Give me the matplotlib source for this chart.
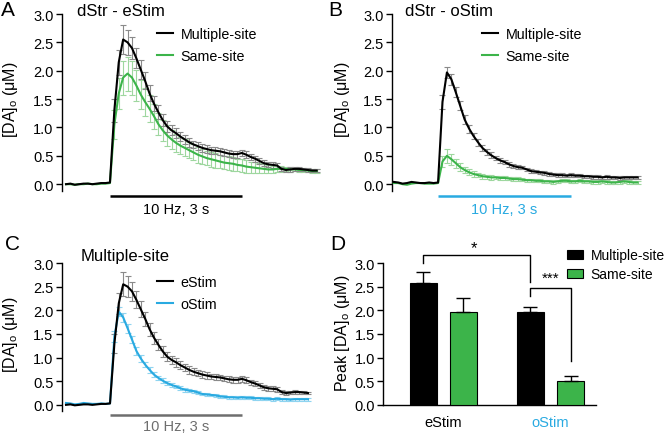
"""
Evoked dopamine release: eStim vs oStim, multiple-site vs same-site.
Four panels (A-D) rebuilt from the figure.
"""

import matplotlib

matplotlib.use("Agg")
import matplotlib.pyplot as plt
import numpy as np

# ---------------------------------------------------------------------------
# Style
# ---------------------------------------------------------------------------
plt.rcParams["font.family"] = ["Liberation Sans", "DejaVu Sans"]
plt.rcParams["mathtext.fontset"] = "custom"
plt.rcParams["mathtext.rm"] = "Liberation Sans"
plt.rcParams["mathtext.it"] = "Liberation Sans:italic"
plt.rcParams["axes.linewidth"] = 1.0

BLACK = "#000000"
GREEN = "#3cb44a"
BLUE = "#29aae1"
GREY_TXT = "#6e6e6e"
ERR_BLACK = "#8a8a8a"
ERR_GREEN = "#9ed79f"
ERR_BLUE = "#8fd4f0"

# ---------------------------------------------------------------------------
# Data (time in s, [DA]o in uM), sampled every 0.1 s from -1.0 to 4.7 s
# ---------------------------------------------------------------------------
time_s = np.round(np.arange(-1.0, 4.75, 0.1), 2)

estim_multi = [0.00, 0.01, -0.01, 0.00, 0.01, 0.01, 0.00, 0.01, 0.02, 0.02, 0.03,
               1.30, 2.15, 2.55, 2.50, 2.40, 2.22, 2.02, 1.82, 1.60, 1.42,
               1.27, 1.13, 1.02, 0.95, 0.90, 0.84, 0.79, 0.74, 0.70, 0.67,
               0.64, 0.62, 0.60, 0.59, 0.58, 0.56, 0.54, 0.53, 0.53, 0.55,
               0.52, 0.48, 0.45, 0.41, 0.37, 0.35, 0.34, 0.33, 0.27, 0.25,
               0.26, 0.27, 0.27, 0.26, 0.25, 0.24, 0.24]
estim_multi_err = [0.0] * 11 + [
               0.20, 0.22, 0.25, 0.22, 0.20, 0.18, 0.17, 0.15, 0.14, 0.13,
               0.12, 0.11, 0.10, 0.09, 0.09, 0.08, 0.08, 0.08, 0.07, 0.07,
               0.07, 0.07, 0.06, 0.06, 0.06, 0.06, 0.06, 0.06, 0.06, 0.06,
               0.06, 0.05, 0.05, 0.05, 0.05, 0.05, 0.05, 0.05, 0.04, 0.04,
               0.04, 0.04, 0.03, 0.03, 0.03, 0.03, 0.03]

estim_same = [0.00, 0.00, -0.01, 0.00, 0.00, 0.01, 0.00, 0.00, 0.01, 0.01, 0.02,
              1.05, 1.60, 1.88, 1.95, 1.88, 1.74, 1.58, 1.45, 1.33, 1.20,
              1.06, 0.95, 0.86, 0.79, 0.73, 0.68, 0.64, 0.60, 0.56, 0.52,
              0.49, 0.46, 0.44, 0.42, 0.40, 0.38, 0.37, 0.36, 0.34, 0.33,
              0.31, 0.30, 0.29, 0.28, 0.27, 0.26, 0.26, 0.27, 0.27, 0.27,
              0.26, 0.26, 0.25, 0.25, 0.24, 0.23, 0.23]
estim_same_err = [0.0] * 11 + [
              0.25, 0.28, 0.30, 0.30, 0.30, 0.28, 0.26, 0.25, 0.24, 0.22,
              0.20, 0.19, 0.18, 0.17, 0.16, 0.15, 0.15, 0.14, 0.14, 0.14,
              0.13, 0.13, 0.13, 0.13, 0.12, 0.12, 0.12, 0.12, 0.11, 0.11,
              0.11, 0.10, 0.10, 0.09, 0.08, 0.07, 0.06, 0.05, 0.05, 0.04,
              0.04, 0.03, 0.03, 0.03, 0.03, 0.03, 0.03]

ostim_multi = [0.04, 0.03, 0.01, 0.02, 0.04, 0.03, 0.02, 0.02, 0.03, 0.02, 0.03,
               1.45, 1.97, 1.85, 1.62, 1.38, 1.14, 0.98, 0.85, 0.74, 0.64,
               0.57, 0.51, 0.46, 0.42, 0.39, 0.35, 0.32, 0.30, 0.29, 0.26,
               0.23, 0.22, 0.21, 0.20, 0.18, 0.17, 0.16, 0.16, 0.15, 0.16,
               0.15, 0.15, 0.14, 0.14, 0.13, 0.13, 0.12, 0.13, 0.12, 0.12,
               0.11, 0.12, 0.12, 0.12, 0.12, 0.12, 0.12]
ostim_multi_err = [0.0] * 11 + [
               0.12, 0.10, 0.10, 0.09, 0.08, 0.08, 0.07, 0.06, 0.06, 0.05,
               0.05, 0.05, 0.04, 0.04, 0.04, 0.04, 0.04, 0.03, 0.03, 0.03,
               0.03, 0.03, 0.03, 0.03, 0.03, 0.03, 0.03, 0.03, 0.03, 0.03,
               0.03, 0.03, 0.03, 0.03, 0.03, 0.03, 0.03, 0.03, 0.03, 0.03,
               0.03, 0.03, 0.03, 0.03, 0.03, 0.03, 0.03]

ostim_same = [0.02, 0.02, 0.00, -0.01, 0.01, 0.02, 0.02, 0.01, 0.01, 0.01, 0.02,
              0.40, 0.50, 0.44, 0.37, 0.30, 0.25, 0.21, 0.18, 0.16, 0.14,
              0.13, 0.12, 0.12, 0.11, 0.11, 0.10, 0.09, 0.09, 0.08, 0.07,
              0.07, 0.06, 0.06, 0.05, 0.05, 0.04, 0.05, 0.06, 0.06, 0.05,
              0.05, 0.06, 0.05, 0.05, 0.04, 0.04, 0.05, 0.04, 0.03, 0.03,
              0.04, 0.05, 0.04, 0.03, 0.03, 0.03, 0.03]
ostim_same_err = [0.0] * 11 + [
              0.10, 0.12, 0.10, 0.08, 0.07, 0.06, 0.05, 0.05, 0.04, 0.04,
              0.04, 0.04, 0.03, 0.03, 0.03, 0.03, 0.03, 0.03, 0.03, 0.03,
              0.03, 0.03, 0.03, 0.03, 0.03, 0.03, 0.03, 0.03, 0.03, 0.03,
              0.03, 0.03, 0.03, 0.03, 0.03, 0.03, 0.03, 0.03, 0.03, 0.03,
              0.03, 0.03, 0.03, 0.03, 0.03, 0.03, 0.03]

# Panel D: peak [DA]o
groups = ["eStim", "oStim"]
peak_multi = [2.57, 1.97]
peak_multi_err = [0.24, 0.10]
peak_same = [1.96, 0.51]
peak_same_err = [0.31, 0.11]

STIM_START, STIM_END = 0.0, 3.0
STIM_LABEL = "10 Hz, 3 s"
YLABEL = "[DA]$_\\mathrm{o}$ (\u03bcM)"
YTICKS = [0, 0.5, 1.0, 1.5, 2.0, 2.5, 3.0]
YTICKLABELS = ["0.0", "0.5", "1.0", "1.5", "2.0", "2.5", "3.0"]

# ---------------------------------------------------------------------------
# Layout helpers (pixel boxes -> figure fractions)
# ---------------------------------------------------------------------------
W, H = 666, 435
fig = plt.figure(figsize=(W / 100, H / 100), dpi=100)


def px_axes(left, top, right, bottom):
    return fig.add_axes([left / W, 1 - bottom / H, (right - left) / W, (bottom - top) / H])


def fx(x):
    return x / W


def fy(y):
    return 1 - y / H


def style_y(ax):
    ax.set_yticks(YTICKS)
    ax.set_yticklabels(YTICKLABELS)
    ax.tick_params(axis="y", direction="out", length=4, width=1.0, pad=1.8, labelsize=10.5)
    ax.patch.set_visible(False)


def style_trace_axes(ax, xlim, ylim):
    ax.set_xlim(*xlim)
    ax.set_ylim(*ylim)
    for side in ("top", "right", "bottom"):
        ax.spines[side].set_visible(False)
    ax.set_xticks([])
    style_y(ax)


def draw_trace(ax, t, y, err, color, ecolor, n=None):
    t = np.asarray(t)[:n]
    y = np.asarray(y)[:n]
    err = np.asarray(err)[:n]
    mask = t > 0.05
    ax.errorbar(t[mask], y[mask], yerr=err[mask], fmt="none", ecolor=ecolor,
                elinewidth=0.8, capsize=2.5, capthick=0.8, zorder=2)
    ax.plot(t, y, color=color, lw=1.5, zorder=3)


def draw_stim(ax, color):
    ax.plot([STIM_START, STIM_END], [-0.21, -0.21], color=color, lw=1.8,
            clip_on=False, solid_capstyle="butt")
    ax.text((STIM_START + STIM_END) / 2, -0.44, STIM_LABEL, color=color,
            ha="center", va="center", fontsize=10.5, clip_on=False)


def trace_legend(ax, handles, labels, x, y):
    ax.legend(handles, labels, loc="upper left", bbox_to_anchor=(fx(x), fy(y)),
              bbox_transform=fig.transFigure, frameon=False, fontsize=10.3,
              handlelength=1.15, handletextpad=0.5, labelspacing=0.55,
              borderpad=0, borderaxespad=0)


# ---------------------------------------------------------------------------
# Panel A: dStr - eStim
# ---------------------------------------------------------------------------
ax_a = px_axes(61.6, 15, 321, 192)
style_trace_axes(ax_a, (-1.1, 4.8), (-0.12, 3.0))
draw_trace(ax_a, time_s, estim_same, estim_same_err, GREEN, ERR_GREEN)
draw_trace(ax_a, time_s, estim_multi, estim_multi_err, BLACK, ERR_BLACK)
draw_stim(ax_a, BLACK)
la1, = ax_a.plot([], [], color=BLACK, lw=1.5)
la2, = ax_a.plot([], [], color=GREEN, lw=1.5)
trace_legend(ax_a, [la1, la2], ["Multiple-site", "Same-site"], 157, 28)
fig.text(fx(77), fy(11), "dStr - eStim", fontsize=12, ha="left", va="center")

# ---------------------------------------------------------------------------
# Panel B: dStr - oStim
# ---------------------------------------------------------------------------
ax_b = px_axes(391.5, 15, 642, 192)
style_trace_axes(ax_b, (-1.05, 4.6), (-0.12, 3.0))
draw_trace(ax_b, time_s, ostim_same, ostim_same_err, GREEN, ERR_GREEN, n=56)
draw_trace(ax_b, time_s, ostim_multi, ostim_multi_err, BLACK, ERR_BLACK, n=56)
draw_stim(ax_b, BLUE)
lb1, = ax_b.plot([], [], color=BLACK, lw=1.5)
lb2, = ax_b.plot([], [], color=GREEN, lw=1.5)
trace_legend(ax_b, [lb1, lb2], ["Multiple-site", "Same-site"], 482, 28)
fig.text(fx(405), fy(11), "dStr - oStim", fontsize=12, ha="left", va="center")

# ---------------------------------------------------------------------------
# Panel C: Multiple-site, eStim vs oStim
# ---------------------------------------------------------------------------
ax_c = px_axes(61.6, 264, 312.4, 412)
style_trace_axes(ax_c, (-1.1, 4.6), (-0.13, 3.0))
draw_trace(ax_c, time_s, ostim_multi, ostim_multi_err, BLUE, ERR_BLUE, n=56)
draw_trace(ax_c, time_s, estim_multi, estim_multi_err, BLACK, ERR_BLACK, n=56)
draw_stim(ax_c, GREY_TXT)
lc1, = ax_c.plot([], [], color=BLACK, lw=1.5)
lc2, = ax_c.plot([], [], color=BLUE, lw=1.5)
trace_legend(ax_c, [lc1, lc2], ["eStim", "oStim"], 157, 276)
fig.text(fx(81), fy(257), "Multiple-site", fontsize=12, ha="left", va="center")

# ---------------------------------------------------------------------------
# Panel D: peak [DA]o bars
# ---------------------------------------------------------------------------
ax_d = px_axes(383, 264, 596, 406)
x = np.arange(len(groups))
off, bw = 0.187, 0.252
ax_d.bar(x - off, peak_multi, bw, color=BLACK, edgecolor=BLACK, lw=0.8,
         yerr=[[0, 0], peak_multi_err],
         error_kw=dict(ecolor=BLACK, elinewidth=1.0, capsize=5, capthick=1.0),
         label="Multiple-site", zorder=3)
ax_d.bar(x + off, peak_same, bw, color=GREEN, edgecolor=BLACK, lw=0.8,
         yerr=[[0, 0], peak_same_err],
         error_kw=dict(ecolor=BLACK, elinewidth=1.0, capsize=5, capthick=1.0),
         label="Same-site", zorder=3)
ax_d.set_xlim(-0.565, 1.425)
ax_d.set_ylim(0, 3.0)
style_y(ax_d)
ax_d.set_xticks(x)
ax_d.set_xticklabels(groups, fontsize=10.5)
ax_d.get_xticklabels()[1].set_color(BLUE)
ax_d.tick_params(axis="x", length=0, pad=7)
for side in ("top", "right"):
    ax_d.spines[side].set_visible(False)

# significance brackets
bx1, bx2, bx3 = x[0] - off, x[1] - off, x[1] + off
ax_d.plot([bx1, bx1, bx2, bx2], [3.0, 3.17, 3.17, 2.59], color=BLACK, lw=1.0, clip_on=False)
ax_d.text((bx1 + bx2) / 2 - 0.03, 3.33, "*", ha="center", va="center", fontsize=12)
ax_d.plot([bx2, bx2, bx3, bx3], [2.31, 2.47, 2.47, 0.94], color=BLACK, lw=1.0, clip_on=False)
ax_d.text(1.0, 2.68, "***", ha="center", va="center", fontsize=11)

ax_d.legend(loc="upper left", bbox_to_anchor=(fx(567), fy(249)),
            bbox_transform=fig.transFigure, frameon=False, fontsize=10,
            handlelength=1.15, handleheight=0.6, handletextpad=0.55,
            labelspacing=0.38, borderpad=0, borderaxespad=0)

# ---------------------------------------------------------------------------
# Axis labels and panel letters
# ---------------------------------------------------------------------------
fig.text(fx(11), fy(100), YLABEL, rotation=90, ha="center", va="center", fontsize=11.5)
fig.text(fx(342), fy(100), YLABEL, rotation=90, ha="center", va="center", fontsize=11.5)
fig.text(fx(11), fy(335), YLABEL, rotation=90, ha="center", va="center", fontsize=11.5)
fig.text(fx(342), fy(333), "Peak " + YLABEL, rotation=90, ha="center", va="center",
         fontsize=11.5)

for letter, (lx, ly) in {"A": (8, 10), "B": (335, 10), "C": (13, 245), "D": (338, 245)}.items():
    fig.text(fx(lx), fy(ly), letter, fontsize=15, ha="center", va="center")

fig.savefig("out.png", dpi=100)
